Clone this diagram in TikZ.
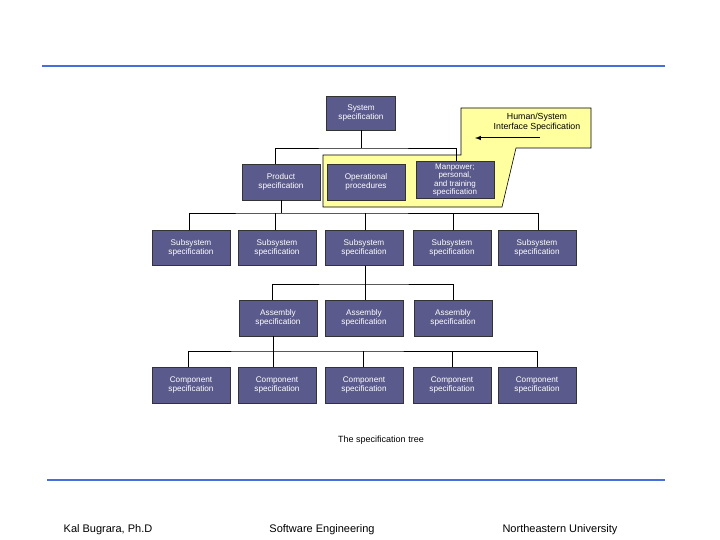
\documentclass[tikz,border=0pt]{standalone}
\usepackage{fontspec}
\setmainfont{Liberation Sans}
\definecolor{boxfill}{RGB}{90,90,140}
\definecolor{calloutfill}{RGB}{255,255,160}
\definecolor{rule}{RGB}{70,110,220}
\begin{document}
\begin{tikzpicture}[x=1pt,y=-1pt,
  spec/.style={draw=black!80,fill=boxfill,text=white,minimum width=78pt,minimum height=36pt,
    inner sep=1pt,align=center,font=\fontsize{8.2}{9.5}\selectfont},
  conn/.style={draw=black,line width=0.8pt}]
\useasboundingbox (0,0) rectangle (720,540);
% rules
\draw[rule,line width=2.5pt] (42,66) -- (665,66);
\draw[rule,line width=2.5pt] (47,480) -- (665,480);
% callout
\draw[fill=calloutfill,line width=0.6pt] (461,108) -- (591,108) -- (591,148) -- (516,148) -- (502,207)
  -- (323,207) -- (323,155) -- (461,155) -- cycle;
\node[font=\fontsize{8.8}{10.5}\selectfont,align=center] (hsi) at (537,122) {Human/System\\Interface Specification};
\coordinate (arS) at (540,138);
\coordinate (arE) at (475,138);
\draw[-latex,line width=1pt] (arS) -- (arE);
% nodes
\node[spec,minimum width=69pt,minimum height=34pt] (sys) at (361,113) {System\\specification};
\node[spec] (prod) at (281,182) {Product\\specification};
\node[spec] (oper) at (366,182) {Operational\\procedures};
\node[spec,minimum height=37pt,font=\fontsize{8}{8.6}\selectfont] (man) at (455,180) {Manpower;\\personal,\\and training\\specification};
\foreach \i/\x in {1/191,2/277,3/364,4/452,5/537}{
  \node[spec,minimum height=35pt] (sub\i) at (\x,248) {Subsystem\\specification};
  \node[spec] (comp\i) at (\x,385) {Component\\specification};
}
\foreach \i/\x in {1/278,2/364,3/453}
  \node[spec] (asm\i) at (\x,318) {Assembly\\specification};
% connectors
\coordinate (j0) at (361,148);
\draw[conn] (sys.south) -- (j0);
\draw[conn] (prod.north -| 275,0) |- (j0) -| (man.north -| 456,0);
\coordinate (j1) at (281,213);
\draw[conn] (prod.south) -- (j1);
\draw[conn] (sub1.north -| 189,0) |- (j1) -| (sub5.north -| 538,0);
\foreach \i/\x in {2/275,3/365,4/453}
  \draw[conn] (sub\i.north -| \x,0) -- (\x,213);
\coordinate (j2) at (365,284);
\draw[conn] (sub3.south -| 365,0) -- (j2);
\draw[conn] (asm1.north -| 272,0) |- (j2) -| (asm3.north -| 453,0);
\draw[conn] (asm2.north -| 365,0) -- (j2);
\coordinate (j3) at (273,351);
\draw[conn] (asm1.south -| 273,0) -- (j3);
\draw[conn] (comp1.north -| 188,0) |- (j3) -| (comp5.north -| 537,0);
\foreach \i/\x in {2/273,3/363,4/452}
  \draw[conn] (comp\i.north -| \x,0) -- (\x,351);
% texts
\node[font=\fontsize{9}{10}\selectfont] (cap) at (381,440) {The specification tree};
\node[font=\fontsize{11}{13}\selectfont] (f1) at (108,530) {Kal Bugrara, Ph.D};
\node[font=\fontsize{11}{13}\selectfont] (f2) at (322,530) {Software Engineering};
\node[font=\fontsize{11}{13}\selectfont] (f3) at (560,530) {Northeastern University};
\end{tikzpicture}
\end{document}
